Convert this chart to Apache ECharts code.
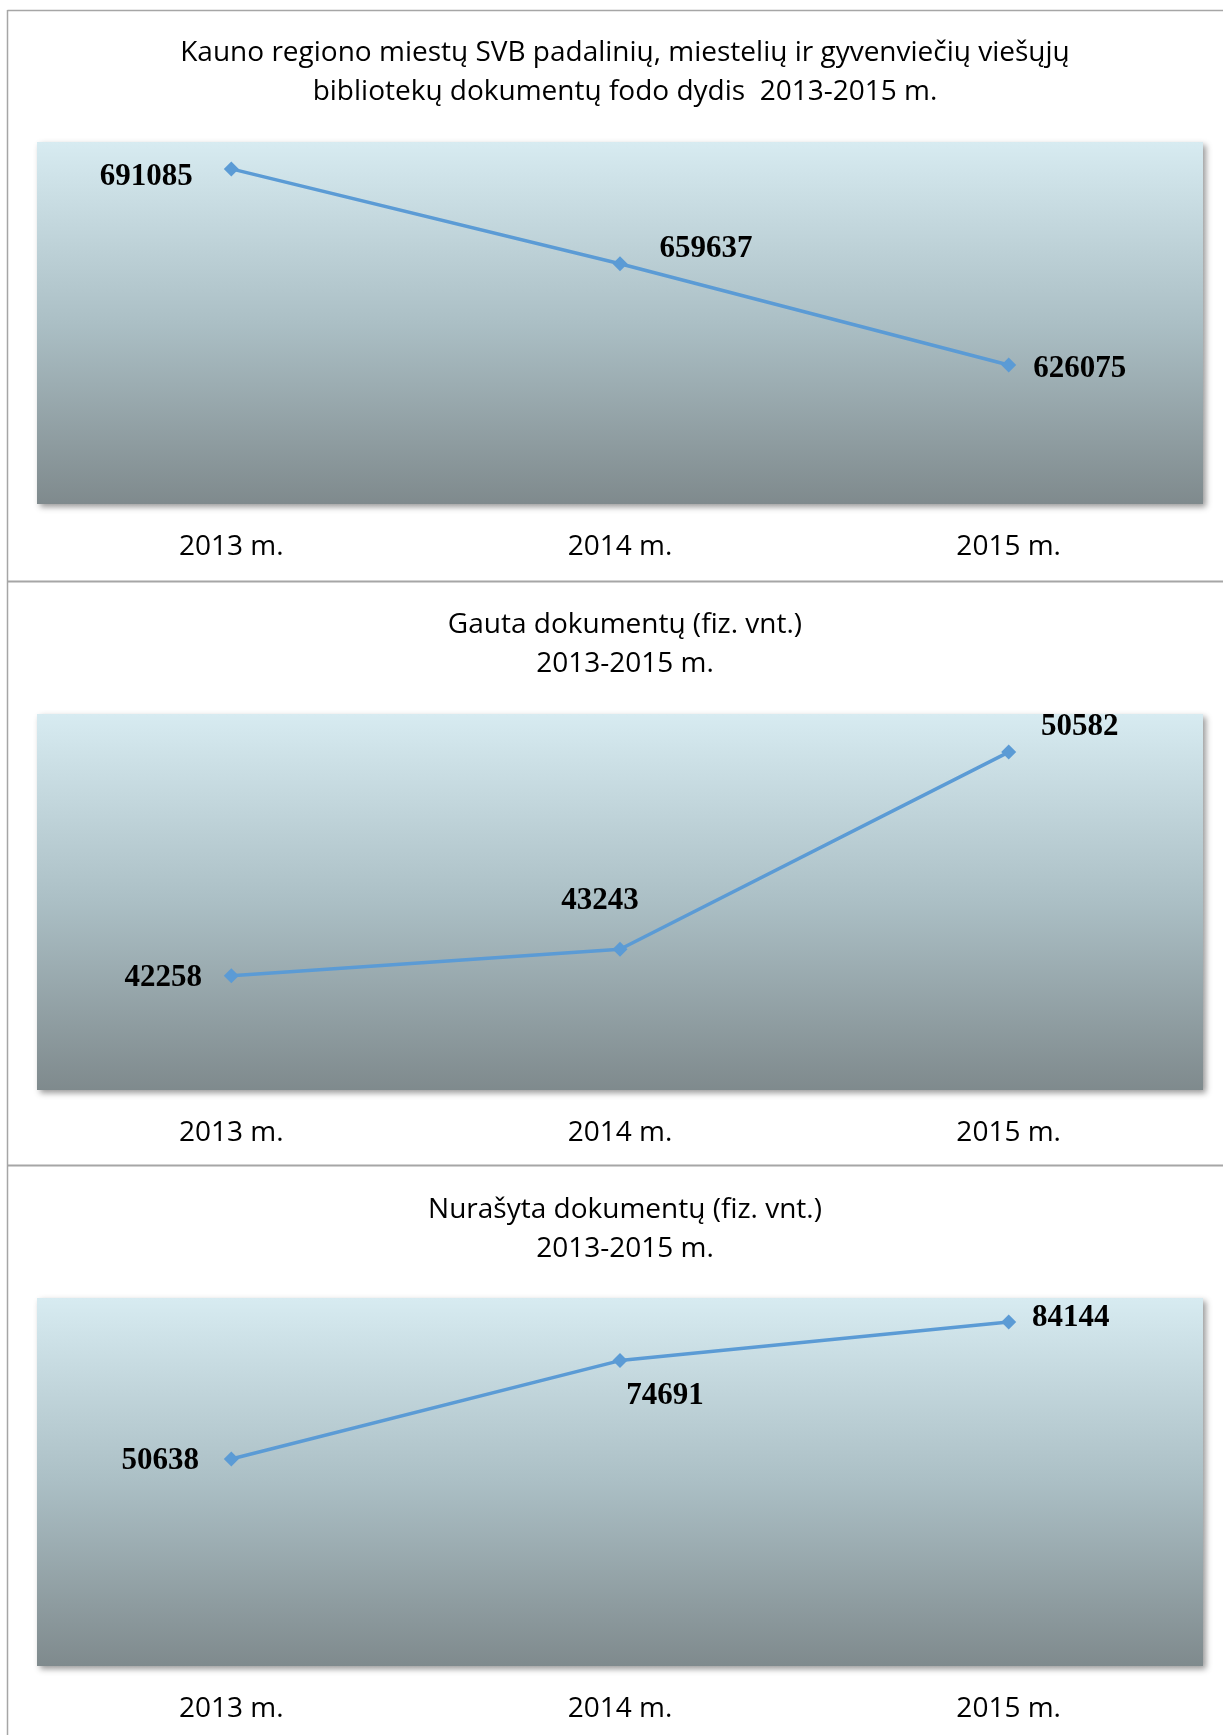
<!DOCTYPE html>
<html>
<head>
<meta charset="utf-8">
<script src="https://cdn.jsdelivr.net/npm/echarts@6/dist/echarts.min.js"></script>
<style>
  html, body {margin: 0; padding: 0; background: #fff;}
</style>
</head>
<body>
<div id="chart" style="width:1223px;height:1735px;"></div>
<script>
  // metai (x asis)
  let years = ['2013 m.', '2014 m.', '2015 m.']

  // reiksmes
  let fondValues = [691085, 659637, 626075]
  let gautaValues = [42258, 43243, 50582]
  let nurasytaValues = [50638, 74691, 84144]

  let titles = [
    'Kauno regiono miestų SVB padalinių, miestelių ir gyvenviečių viešųjų\nbibliotekų dokumentų fodo dydis  2013-2015 m.',
    'Gauta dokumentų (fiz. vnt.)\n2013-2015 m.',
    'Nurašyta dokumentų (fiz. vnt.)\n2013-2015 m.'
  ]

  // y asies ribos (pasleptos)
  let yMin = [580000, 38000, 0]
  let yMax = [700000, 52000, 90000]
  let yStep = [20000, 2000, 10000]

  // etikeciu poslinkis nuo tasko centro
  let labelShift = [
    [[-85, 8], [86, -15], [71, 4]],
    [[-68, 2], [-20, -48], [71, -25]],
    [[-71, 2], [45, 35], [62, -4]]
  ]

  let allValues = [fondValues, gautaValues, nurasytaValues]

  let gridTops = [142, 714, 1298]
  let gridHeights = [362, 376, 368]
  let titleTops = [29, 601, 1186]

  let plotBg = {
    type: 'linear', x: 0, y: 0, x2: 0, y2: 1,
    colorStops: [
      {offset: 0, color: '#d7ebf1'},
      {offset: 0.5, color: '#abbfc5'},
      {offset: 1, color: '#7f8a8d'}
    ]
  }

  let options = {
    backgroundColor: '#fff',
    animation: false,
    title: [],
    grid: [],
    xAxis: [],
    yAxis: [],
    series: [],
    graphic: [
      // remelio linijos
      {type: 'line', shape: {x1: 7.5, y1: 10.5, x2: 1223, y2: 10.5}, style: {stroke: '#a6a6a6', lineWidth: 1.5}},
      {type: 'line', shape: {x1: 7.5, y1: 10, x2: 7.5, y2: 1735}, style: {stroke: '#a6a6a6', lineWidth: 1.5}},
      {type: 'line', shape: {x1: 7.5, y1: 581.5, x2: 1223, y2: 581.5}, style: {stroke: '#a6a6a6', lineWidth: 2}},
      {type: 'line', shape: {x1: 7.5, y1: 1165.5, x2: 1223, y2: 1165.5}, style: {stroke: '#a6a6a6', lineWidth: 2}}
    ]
  }

  for (let i = 0; i < 3; i++) {
    options.title.push({
      text: titles[i],
      left: 620,
      top: titleTops[i],
      textAlign: 'center',
      textStyle: {
        fontFamily: 'Open Sans',
        fontWeight: 'normal',
        fontSize: 28,
        lineHeight: 39,
        color: '#000'
      }
    })
    options.grid.push({
      show: true,
      left: 37,
      right: 20,
      top: gridTops[i],
      height: gridHeights[i],
      borderWidth: 0,
      backgroundColor: plotBg,
      shadowColor: 'rgba(0,0,0,0.4)',
      shadowBlur: 6,
      shadowOffsetX: 3,
      shadowOffsetY: 3
    })
    options.xAxis.push({
      type: 'category',
      gridIndex: i,
      data: years,
      boundaryGap: true,
      axisLine: {show: false},
      axisTick: {show: false},
      axisLabel: {
        margin: 29,
        fontFamily: 'Open Sans',
        fontSize: 28,
        lineHeight: 28,
        color: '#000'
      }
    })
    options.yAxis.push({
      type: 'value',
      gridIndex: i,
      min: yMin[i],
      max: yMax[i],
      interval: yStep[i],
      show: false,
      splitLine: {show: false}
    })
    options.series.push({
      type: 'line',
      xAxisIndex: i,
      yAxisIndex: i,
      data: allValues[i].map((v, j) => ({
        value: v,
        label: {offset: labelShift[i][j]}
      })),
      color: '#5b9bd5',
      lineStyle: {width: 3.5, color: '#5b9bd5'},
      symbol: 'diamond',
      symbolSize: 15,
      itemStyle: {color: '#5b9bd5'},
      label: {
        show: true,
        position: 'inside',
        fontFamily: 'Liberation Serif',
        fontWeight: 'bold',
        fontSize: 31,
        color: '#000'
      }
    })
  }

  let mychart = echarts.init(document.getElementById('chart'))
  mychart.setOption(options)
</script>
</body>
</html>
